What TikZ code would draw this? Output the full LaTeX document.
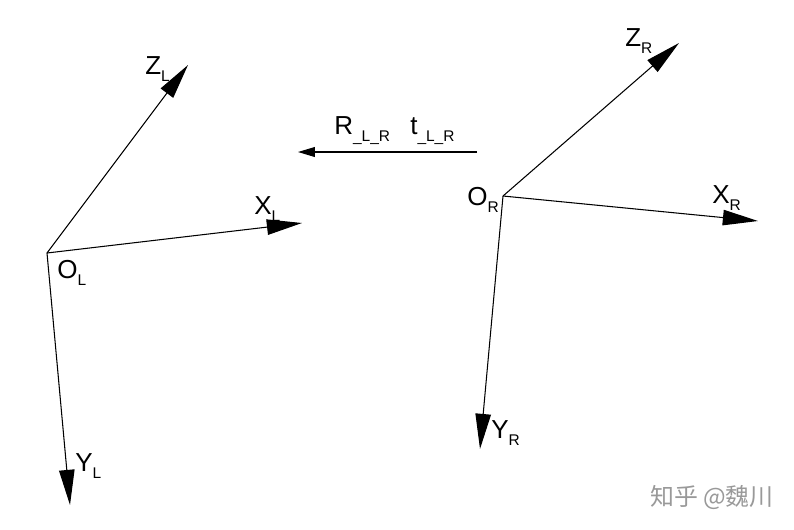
\documentclass[tikz,border=0pt]{standalone}
\usepackage{fontspec}
\setmainfont{Liberation Sans}
\newfontfamily\cjk{Noto Sans CJK SC}
\usetikzlibrary{arrows.meta}
\newcommand{\axlab}[2]{#1\raisebox{-5pt}{\fontsize{11}{13}\selectfont #2}}
\tikzset{axis/.style={line width=.75pt,-{Triangle[length=25pt,width=11pt]}},flow/.style={line width=.75pt,-{Triangle[length=12pt,width=7pt]}},lab/.style={font=\fontsize{18.5}{22}\selectfont,inner sep=0pt,anchor=base west}}

\begin{document}
\begin{tikzpicture}[x=0.025cm,y=-0.025cm]
\useasboundingbox (0,0) rectangle (794,529);
\coordinate (OL) at (47,253);
\coordinate (ZL) at (188,65);
\coordinate (XL) at (302,223);
\coordinate (YL) at (70,505);
\coordinate (OR) at (503,196);
\coordinate (ZR) at (679,43);
\coordinate (XR) at (758,221);
\coordinate (YR) at (480,449);
\coordinate (tfrom) at (477,152);
\coordinate (tto) at (298,152);
\draw[axis] (OL) -- (ZL);
\draw[axis] (OL) -- (XL);
\draw[axis] (OL) -- (YL);
\draw[axis] (OR) -- (ZR);
\draw[axis] (OR) -- (XR);
\draw[axis] (OR) -- (YR);
\draw[flow] (tfrom) -- (tto);
\node[lab] (zl) at (145,74) {\axlab{Z}{L}};
\node[lab] (xl) at (254,214) {\axlab{X}{L}};
\node[lab] (ol) at (57,278) {\axlab{O}{L}};
\node[lab] (yl) at (75,471) {\axlab{Y}{L}};
\node[lab] (zr) at (625,46) {\axlab{Z}{R}};
\node[lab] (xr) at (712,203) {\axlab{X}{R}};
\node[lab] (or) at (467,205) {\axlab{O}{R}};
\node[lab] (yr) at (491,438) {\axlab{Y}{R}};
\node[lab] (rot) at (334,134) {\axlab{R}{\_L\_R}};
\node[lab] (trans) at (410,134) {\axlab{t}{\_L\_R}};
\node[font=\cjk\fontsize{17}{20}\selectfont,text=black!40,inner sep=0pt] (mark) at (712,497) {知乎 @魏川};
\end{tikzpicture}
\end{document}
